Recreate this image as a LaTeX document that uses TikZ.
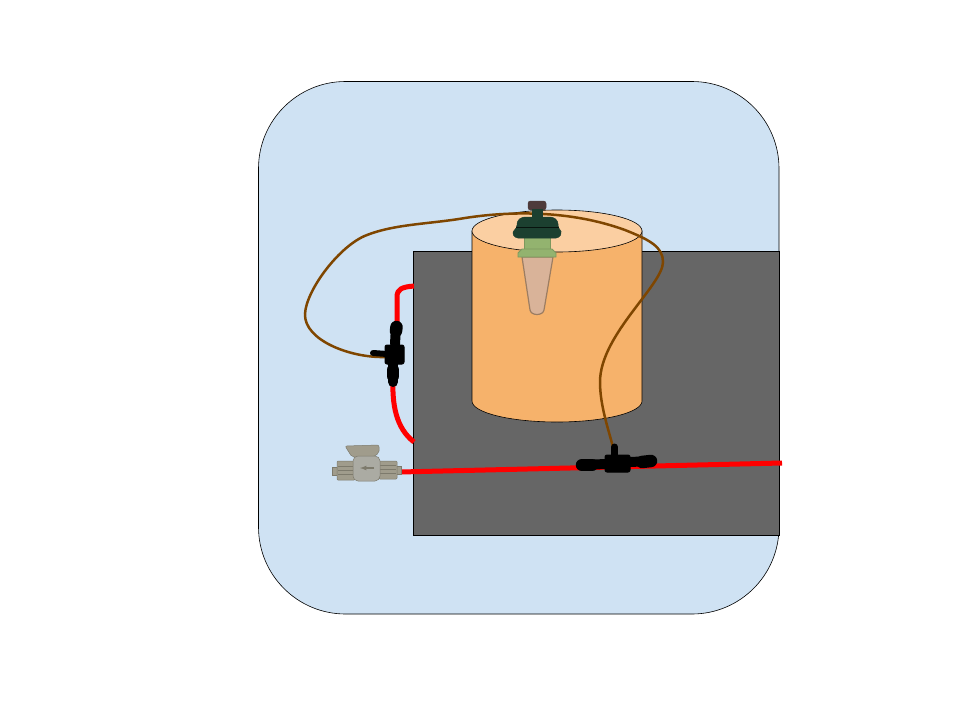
\documentclass[tikz,border=0pt]{standalone}
\definecolor{panel}{HTML}{CFE2F3}
\definecolor{slab}{HTML}{666666}
\definecolor{potside}{HTML}{F6B26B}
\definecolor{pottop}{HTML}{FBCFA2}
\definecolor{tube}{HTML}{7F4600}
\definecolor{dkgreen}{HTML}{1C4030}
\definecolor{ltgreen}{HTML}{93B36F}
\definecolor{cone}{HTML}{D9B399}
\definecolor{conee}{HTML}{9C7D62}
\definecolor{capc}{HTML}{4E3B3B}
\definecolor{valve}{HTML}{A09C8C}
\definecolor{valvebody}{HTML}{ABABA3}
\definecolor{valved}{HTML}{7D7A6C}
\tikzset{
  x=1pt,y=-1pt,
  outline/.style={draw=black,line width=0.6pt},
  redtube/.style={draw=red,line width=5pt},
  browntube/.style={draw=tube,line width=2.5pt},
  fitting/.style={draw=black,fill=black,line width=1pt,line join=round,rounded corners=2pt},
  barb/.style={draw=black,line width=10pt,line cap=round},
  rib/.style={draw=black,line width=12.5pt,line cap=round},
}
\begin{document}
\begin{tikzpicture}
\useasboundingbox (0,0) rectangle (960,720);
\fill[white] (0,0) rectangle (960,720);
% panel and slab
\path[outline,fill=panel,rounded corners=87pt] (258.5,81.5) rectangle (779,614);
\path[outline,fill=slab] (413.5,251) rectangle (779,535.5);
% pot
\path[outline,fill=potside] (472,231) -- (472,401) arc[x radius=85,y radius=21,start angle=180,end angle=0] -- (642,231) -- cycle;
\path[outline,fill=pottop] (557,231) ellipse[x radius=85,y radius=21];
% tubes
\coordinate (redA) at (414,286);
\coordinate (redB) at (414,442);
\coordinate (redC) at (400,472);
\coordinate (redD) at (782,463);
\draw[redtube] (redC) -- (redD);
\draw[redtube] (redA) .. controls (402,287) and (397,289) .. (397,297) -- (397,330);
\draw[redtube] (393,378) .. controls (392,405) and (396,428) .. (redB);
\draw[browntube] (385,357) .. controls (350,358) and (304,340) .. (305,314)
  .. controls (306,290) and (340,245) .. (367,235)
  .. controls (395,224) and (430,224) .. (465,218)
  .. controls (510,211) and (570,210) .. (625,230)
  .. controls (650,240) and (663,247) .. (663,262)
  .. controls (663,285) and (600,335) .. (600,382)
  .. controls (600,405) and (608,428) .. (613,447);
% dripper
\path[draw=conee,line width=1.2pt,fill=cone] (522,257) -- (530,310) .. controls (531,316) and (543,316) .. (544,310) -- (553,257) -- cycle;
\path[draw=ltgreen!85!black,line width=.8pt,fill=ltgreen] (524,236) rectangle (550,250);
\path[draw=ltgreen!85!black,line width=.8pt,fill=ltgreen] (518,257) -- (518,253) -- (522,249) -- (552,249) -- (556,253) -- (556,257) -- cycle;
\path[draw=capc,fill=capc,line width=.5pt,rounded corners=2.5pt] (528,201) rectangle (546,210);
\path[fill=dkgreen,draw=dkgreen] (532,209) rectangle (542,219);
\path[draw=dkgreen,fill=dkgreen,rounded corners=3pt,line width=.5pt] (517,228) -- (517,221) -- (522,217) -- (553,217) -- (558,221) -- (558,228) -- (562,232) -- (559,238) -- (515,238) -- (512,232) -- cycle;
\draw[black!70!dkgreen,line width=.5pt] (516,227) -- (559,227);
% valve
\path[draw=valved,fill=valve,line width=.5pt,rounded corners=2pt] (345,446) -- (379,445) -- (379,453) -- (373,457) -- (352,457) -- cycle;
\path[draw=valved,fill=valve,line width=.5pt] (332,467) rectangle (338,475);
\path[draw=valved,fill=valve,line width=.5pt] (396,466) rectangle (401.5,474);
\path[draw=valved,fill=valve,line width=.5pt,rounded corners=1pt] (337,461) rectangle (355,480);
\path[draw=valved,fill=valve,line width=.5pt,rounded corners=1pt] (379,461) rectangle (397,479);
\foreach \yy in {466,470,474}{
  \draw[valved,line width=.7pt] (338,\yy) -- (354,\yy);
  \draw[valved,line width=.7pt] (380,\yy-.5) -- (396,\yy-.5);
}
\path[draw=valved,fill=valvebody,line width=.5pt,rounded corners=5pt] (353,456) rectangle (380,481);
\draw[valved,line width=1.2pt,-latex] (374,468) -- (360,468);
% left tee
\draw[barb] (396,326) -- (395,344);
\draw[rib] (396.5,327) -- (396,331);
\draw[barb] (393,364) -- (393,382);
\draw[rib] (393,370) -- (393,376);
\draw[fitting] (385,345) rectangle (404,364);
\draw[black,line width=6pt,line cap=round] (373,353) -- (387,354);
% lower tee
\draw[barb] (581,465) -- (606,464);
\draw[rib] (582,465) -- (592,465);
\draw[barb] (630,462) -- (652,461);
\draw[rib] (642,462) -- (651,461);
\draw[fitting] (605,455) rectangle (630,472);
\draw[black,line width=7pt,line cap=round] (614.5,447) -- (614.5,457);
\end{tikzpicture}
\end{document}
